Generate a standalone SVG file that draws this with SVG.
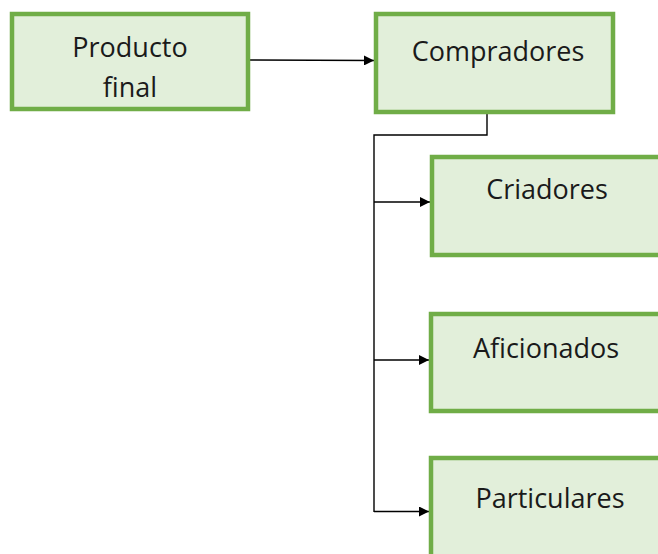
<svg xmlns="http://www.w3.org/2000/svg" width="658" height="554" viewBox="0 0 658 554">
<defs>
<marker id="arr" viewBox="0 0 10 10" refX="10" refY="5" markerWidth="11" markerHeight="10" markerUnits="userSpaceOnUse" orient="auto">
<path d="M0,0 L10,5 L0,10 z" fill="#000"/>
</marker>
<style>
.box{fill:#E2EFDA;stroke:#70AD47;stroke-width:4.5}
.lbl{font-family:"Open Sans","Liberation Sans",sans-serif;font-size:27px;fill:#1a1a1a;text-anchor:middle}
.con{fill:none;stroke:#000;stroke-width:1.4}
</style>
</defs>
<rect width="658" height="554" fill="#fff"/>
<g id="connectors">
<line class="con" x1="250" y1="60" x2="374" y2="60.5" marker-end="url(#arr)"/>
<polyline class="con" points="487,114 487,135 374,135 374,512"/>
<line class="con" x1="374" y1="202" x2="430" y2="202" marker-end="url(#arr)"/>
<line class="con" x1="374" y1="360" x2="429" y2="360" marker-end="url(#arr)"/>
<line class="con" x1="374" y1="511.5" x2="429" y2="511.5" marker-end="url(#arr)"/>
</g>
<g id="producto-final">
<rect class="box" x="12" y="14" width="236" height="95"/>
<text class="lbl" x="130" y="57">Producto</text>
<text class="lbl" x="130" y="97">final</text>
</g>
<g id="compradores">
<rect class="box" x="376" y="14" width="237" height="98"/>
<text class="lbl" x="498" y="61">Compradores</text>
</g>
<g id="criadores">
<rect class="box" x="432" y="157" width="260" height="98"/>
<text class="lbl" x="547" y="199">Criadores</text>
</g>
<g id="aficionados">
<rect class="box" x="431" y="314" width="260" height="97"/>
<text class="lbl" x="546" y="358">Aficionados</text>
</g>
<g id="particulares">
<rect class="box" x="431" y="458" width="260" height="120"/>
<text class="lbl" x="550" y="508">Particulares</text>
</g>
</svg>
